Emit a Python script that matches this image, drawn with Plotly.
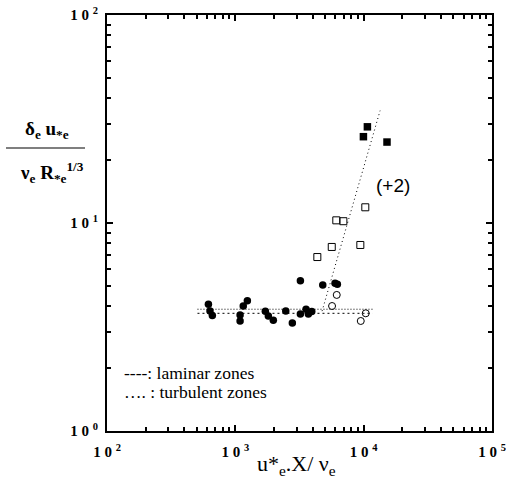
import plotly.graph_objects as go

# Data
fc_x = [617, 635, 662, 1089, 1089, 1153, 1241, 1714, 1808, 1977, 2472, 2781, 3213, 3213, 3557, 3707, 3939, 4800, 5984, 6238]
fc_y = [4.07, 3.78, 3.59, 3.61, 3.38, 3.99, 4.23, 3.76, 3.57, 3.41, 3.78, 3.31, 5.28, 3.65, 3.85, 3.65, 3.75, 5.03, 5.13, 5.07]
oc_x = [6168, 5672, 10380, 9490]
oc_y = [4.51, 3.99, 3.68, 3.38]
os_x = [10300, 6120, 6950, 5640, 9420, 4355]
os_y = [11.9, 10.3, 10.2, 7.67, 7.84, 6.86]
fs_x = [10690, 9955, 15200]
fs_y = [29.0, 26.0, 24.5]

turb_x = [507, 11720]
turb_y = [3.85, 3.85]
lam_x = [507, 11720]
lam_y = [3.68, 3.68]
slope_x = [4740, 13430]
slope_y = [3.77, 34.7]

x_tickvals = [100, 1000, 10000, 100000]
x_ticktext = ["<b>1 0 <sup>2</sup></b>", "<b>1 0 <sup>3</sup></b>", "<b>1 0 <sup>4</sup></b>", "<b>1 0 <sup>5</sup></b>"]
y_tickvals = [1, 10, 100]
y_ticktext = ["<b>1 0 <sup>0</sup></b>", "<b>1 0 <sup>1</sup></b>", "<b>1 0 <sup>2</sup></b>"]

x_minor = [m * d for d in (100, 1000, 10000) for m in range(2, 10)]
y_minor = [m * d for d in (1, 10) for m in range(2, 10)]

fig = go.Figure()
fig.add_trace(go.Scatter(x=turb_x, y=turb_y, mode="lines",
                         line=dict(color="black", width=1, dash="1px,2px"), hoverinfo="skip"))
fig.add_trace(go.Scatter(x=lam_x, y=lam_y, mode="lines",
                         line=dict(color="black", width=1, dash="2px,3px"), hoverinfo="skip"))
fig.add_trace(go.Scatter(x=slope_x, y=slope_y, mode="lines",
                         line=dict(color="black", width=1, dash="1px,3px"), hoverinfo="skip"))
fig.add_trace(go.Scatter(x=fc_x, y=fc_y, mode="markers",
                         marker=dict(symbol="circle", size=7.5, color="black")))
fig.add_trace(go.Scatter(x=oc_x, y=oc_y, mode="markers",
                         marker=dict(symbol="circle-open", size=7, color="black", line=dict(width=1))))
fig.add_trace(go.Scatter(x=os_x, y=os_y, mode="markers",
                         marker=dict(symbol="square-open", size=7, color="black", line=dict(width=1))))
fig.add_trace(go.Scatter(x=fs_x, y=fs_y, mode="markers",
                         marker=dict(symbol="square", size=7.5, color="black")))

axis_common = dict(type="log", showgrid=False, zeroline=False, showline=True,
                   linecolor="black", linewidth=2, mirror="allticks", automargin=False,
                   ticks="inside", ticklen=6, tickwidth=1.5, tickcolor="black",
                   tickfont=dict(family="Liberation Serif", size=15, color="black"))

fig.update_xaxes(range=[2, 5], tickmode="array", tickvals=x_tickvals, ticktext=x_ticktext,
                 ticklabelstandoff=6,
                 minor=dict(ticks="inside", ticklen=4, tickwidth=1.5, tickcolor="black",
                            showgrid=False, tickmode="array", tickvals=x_minor),
                 **axis_common)
fig.update_yaxes(range=[0, 2], tickmode="array", tickvals=y_tickvals, ticktext=y_ticktext,
                 ticklabelstandoff=4,
                 minor=dict(ticks="inside", ticklen=4, tickwidth=1.5, tickcolor="black",
                            showgrid=False, tickmode="array", tickvals=y_minor),
                 **axis_common)

fig.update_layout(
    width=506, height=486,
    margin=dict(l=107, r=14, t=15, b=55),
    paper_bgcolor="white", plot_bgcolor="white",
    showlegend=False,
    annotations=[
        dict(text="(+2)", x=(393 - 107) / 385, y=(431 - 185) / 416, xref="paper", yref="paper", showarrow=False,
             xanchor="center", yanchor="middle",
             font=dict(family="Liberation Sans", size=19, color="black")),
        dict(text="----: laminar zones", x=(122 - 107) / 385, y=(431 - 373) / 416, xref="paper", yref="paper",
             xanchor="left", yanchor="middle", showarrow=False,
             font=dict(family="Liberation Serif", size=17.5, color="black")),
        dict(text="…. : turbulent zones", x=(122 - 107) / 385, y=(431 - 392) / 416, xref="paper", yref="paper",
             xanchor="left", yanchor="middle", showarrow=False,
             font=dict(family="Liberation Serif", size=17.5, color="black")),
        dict(text="u*<sub>e</sub>.X/ ν<sub>e</sub>", x=(296 - 107) / 385, y=(431 - 465) / 416,
             xref="paper", yref="paper", xanchor="center", yanchor="middle", showarrow=False,
             font=dict(family="Liberation Serif", size=22, color="black")),
        dict(text="<b>δ<sub>e</sub> u<sub>*e</sub></b>", x=(47 - 107) / 385, y=(431 - 130) / 416,
             xref="paper", yref="paper", xanchor="center", yanchor="middle", showarrow=False,
             font=dict(family="Liberation Serif", size=19, color="black")),
        dict(text="<b>ν<sub>e</sub> R<sub>*e</sub><sup>1/3</sup></b>", x=(52 - 107) / 385, y=(431 - 172) / 416,
             xref="paper", yref="paper", xanchor="center", yanchor="middle", showarrow=False,
             font=dict(family="Liberation Serif", size=19, color="black")),
    ],
    shapes=[
        dict(type="line", xref="paper", yref="paper",
             x0=(6 - 107) / 385, x1=(85 - 107) / 385,
             y0=(431 - 148) / 416, y1=(431 - 148) / 416,
             line=dict(color="black", width=1.2)),
    ],
)

fig.write_html("out.html", config={"displayModeBar": False},
               post_script="document.body.style.margin='0';document.body.style.padding='0';"
                           "document.body.style.overflow='hidden';")
